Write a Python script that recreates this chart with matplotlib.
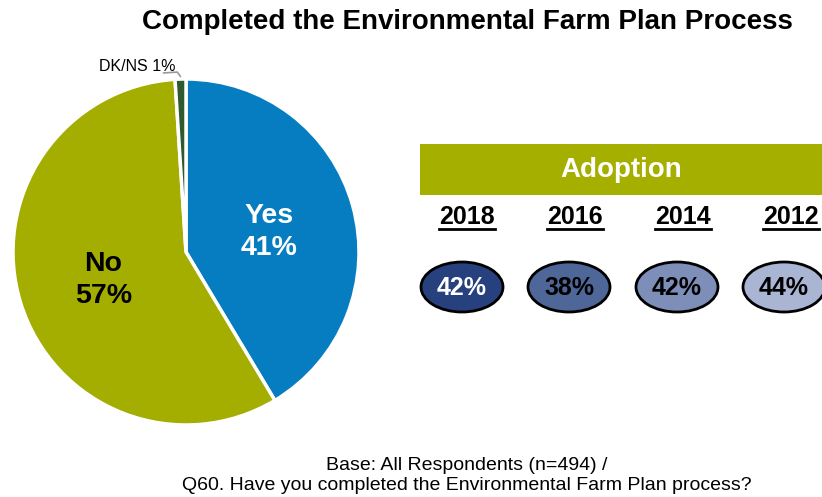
import numpy as np
import matplotlib
matplotlib.use("Agg")
import matplotlib.pyplot as plt
from matplotlib.patches import Ellipse, Rectangle

plt.rcParams['font.family'] = ['Liberation Sans', 'DejaVu Sans']

title = "Completed the Environmental Farm Plan Process"
pie_labels = ["Yes", "No", "DK/NS"]
pie_values = [41, 57, 1]
pie_colors = ["#067CC1", "#A4AE00", "#2E5A2E"]

years = ["2018", "2016", "2014", "2012"]
adoption = [42, 38, 42, 44]
ell_colors = ["#27417F", "#4F6699", "#7D8FB9", "#A9B5D2"]
ell_text_colors = ["white", "black", "black", "black"]

footer = ["Base: All Respondents (n=494) /",
          "Q60. Have you completed the Environmental Farm Plan process?"]

W, H = 822, 497
fig = plt.figure(figsize=(W / 100, H / 100), dpi=100)

# Pie
cx, cy, R = 186, 252, 173
axp = fig.add_axes([(cx - R) / W, (H - cy - R) / H, 2 * R / W, 2 * R / H])
wedges, _ = axp.pie(pie_values, colors=pie_colors, startangle=90, counterclock=False,
                    wedgeprops=dict(edgecolor="white", linewidth=2.5))
axp.set_xlim(-1, 1)
axp.set_ylim(-1, 1)
axp.set_aspect('equal')
axp.axis('off')

inside_colors = ["white", "black"]
for i, w in enumerate(wedges[:2]):
    ang = np.deg2rad((w.theta1 + w.theta2) / 2)
    axp.text(0.5 * np.cos(ang), 0.5 * np.sin(ang) - 0.015, f"{pie_labels[i]}\n{pie_values[i]}%",
             ha='center', va='center', fontsize=20.5, fontweight='bold',
             color=inside_colors[i], linespacing=1.3)

# DK/NS outside label
w = wedges[2]
ang = np.deg2rad((w.theta1 + w.theta2) / 2)
axp.text(-0.28, 1.075, f"{pie_labels[2]} {pie_values[2]}%", ha='center', va='center',
         fontsize=11.5, color='black', clip_on=False)
axp.plot([-0.13, -0.05, np.cos(ang) * 1.01], [1.035, 1.04, np.sin(ang) * 1.01 + 0.005],
         color='#999999', lw=1.2, clip_on=False, solid_capstyle='round')

# Overlay axes in pixel coords
ax = fig.add_axes([0, 0, 1, 1])
ax.set_xlim(0, W)
ax.set_ylim(H, 0)
ax.axis('off')

ax.text(467, 22, title, ha='center', va='center', fontsize=20, fontweight='bold')

ax.add_patch(Rectangle((420, 144), 410, 51, facecolor='#A5AF00', edgecolor='none'))
ax.text(621, 170, "Adoption", ha='center', va='center', fontsize=20,
        fontweight='bold', color='white')

year_x = [467, 575, 683, 791]
ell_x = [462, 569, 677, 784]
for i, yr in enumerate(years):
    ax.text(year_x[i], 217, yr, ha='center', va='center', fontsize=18, fontweight='bold')
    ax.plot([year_x[i] - 28, year_x[i] + 28], [229, 229], color='black', lw=2)
    ax.add_patch(Ellipse((ell_x[i], 287), 82, 50, facecolor=ell_colors[i],
                         edgecolor='black', lw=2))
    ax.text(ell_x[i], 288, f"{adoption[i]}%", ha='center', va='center', fontsize=18,
            fontweight='bold', color=ell_text_colors[i])

ax.text(467, 465, footer[0], ha='center', va='center', fontsize=14)
ax.text(467, 486, footer[1], ha='center', va='center', fontsize=14)

fig.savefig("out.png", dpi=100)
